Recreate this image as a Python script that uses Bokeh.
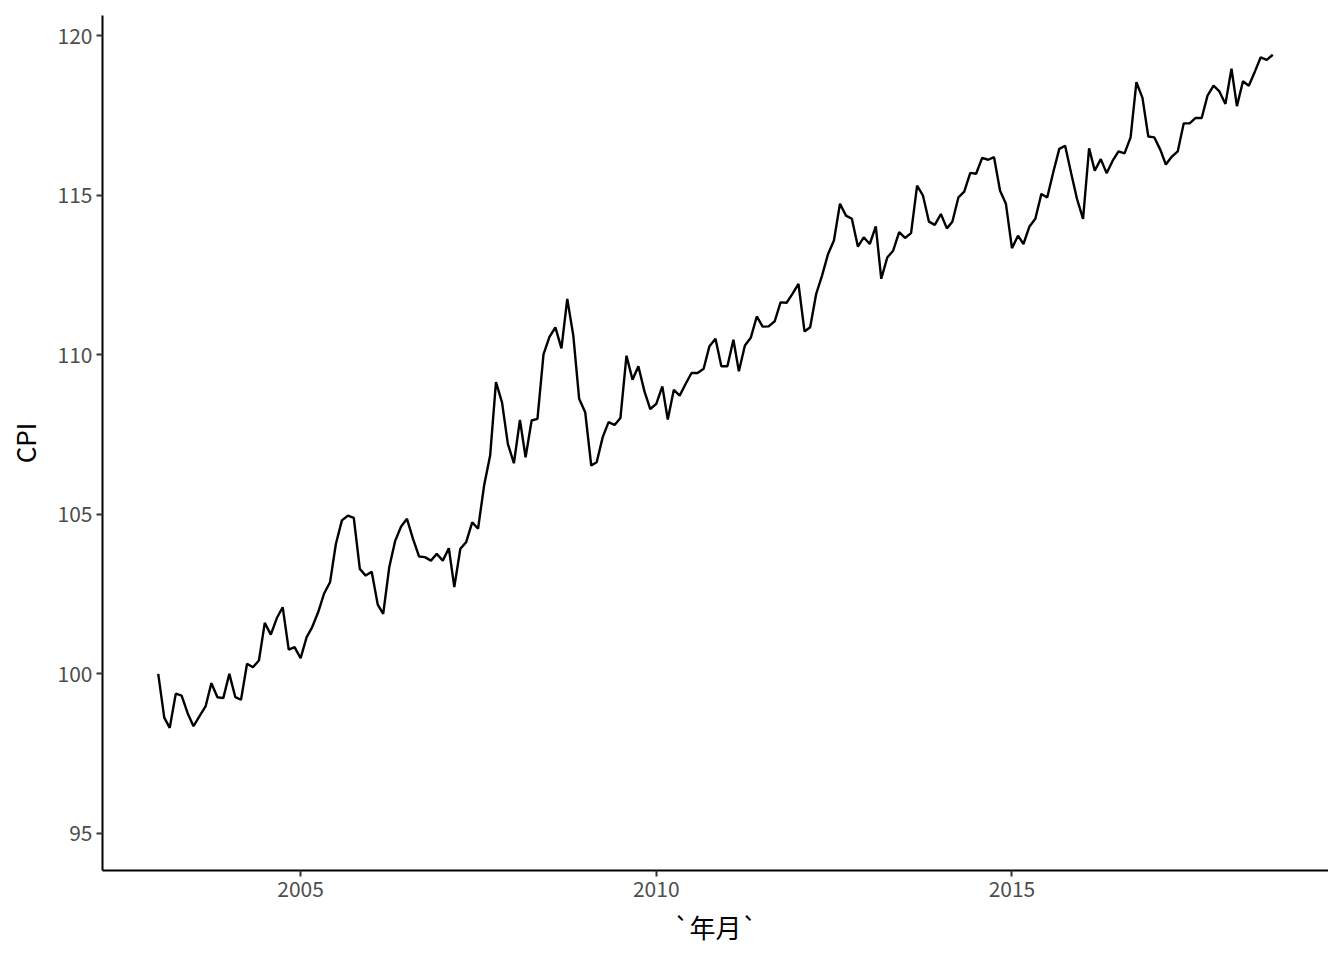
import pandas as pd
from bokeh.plotting import figure
from bokeh.models import ColumnDataSource, Range1d, FixedTicker, DatetimeTickFormatter
from bokeh.embed import file_html
from bokeh.resources import INLINE

cpi_2003 = [100.0, 98.63, 98.31, 99.38, 99.32, 98.77, 98.36, 98.68, 98.98, 99.71, 99.27, 99.24]
cpi_2004 = [100.0, 99.27, 99.19, 100.32, 100.21, 100.42, 101.60, 101.23, 101.75, 102.09, 100.76, 100.84]
cpi_2005 = [100.49, 101.15, 101.46, 101.93, 102.51, 102.87, 104.07, 104.81, 104.96, 104.89, 103.29, 103.08]
cpi_2006 = [103.20, 102.17, 101.88, 103.34, 104.16, 104.62, 104.86, 104.23, 103.68, 103.66, 103.55, 103.76]
cpi_2007 = [103.55, 103.94, 102.72, 103.92, 104.13, 104.75, 104.55, 105.90, 106.84, 109.14, 108.51, 107.21]
cpi_2008 = [106.60, 107.96, 106.79, 107.94, 107.99, 110.01, 110.55, 110.86, 110.20, 111.75, 110.60, 108.62]
cpi_2009 = [108.20, 106.53, 106.63, 107.42, 107.89, 107.80, 108.02, 109.97, 109.22, 109.64, 108.86, 108.30]
cpi_2010 = [108.46, 109.01, 107.97, 108.90, 108.72, 109.09, 109.43, 109.43, 109.56, 110.27, 110.50, 109.64]
cpi_2011 = [109.64, 110.47, 109.48, 110.29, 110.53, 111.20, 110.88, 110.89, 111.05, 111.64, 111.63, 111.91]
cpi_2012 = [112.22, 110.73, 110.86, 111.91, 112.48, 113.16, 113.58, 114.73, 114.36, 114.26, 113.39, 113.68]
cpi_2013 = [113.47, 114.02, 112.38, 113.05, 113.26, 113.84, 113.66, 113.81, 115.30, 114.99, 114.17, 114.07]
cpi_2014 = [114.41, 113.96, 114.17, 114.93, 115.11, 115.70, 115.67, 116.17, 116.11, 116.19, 115.14, 114.73]
cpi_2015 = [113.34, 113.73, 113.47, 114.02, 114.26, 115.04, 114.93, 115.72, 116.45, 116.55, 115.69, 114.88]
cpi_2016 = [114.26, 116.47, 115.77, 116.13, 115.69, 116.08, 116.37, 116.31, 116.81, 118.54, 118.05, 116.84]
cpi_2017 = [116.81, 116.42, 115.96, 116.21, 116.37, 117.25, 117.25, 117.42, 117.42, 118.12, 118.43, 118.25]
cpi_2018 = [117.86, 118.96, 117.79, 118.57, 118.43, 118.87, 119.32, 119.24, 119.40]

cpi = (cpi_2003 + cpi_2004 + cpi_2005 + cpi_2006 + cpi_2007 + cpi_2008 + cpi_2009 + cpi_2010
       + cpi_2011 + cpi_2012 + cpi_2013 + cpi_2014 + cpi_2015 + cpi_2016 + cpi_2017 + cpi_2018)
months = pd.date_range("2003-01-01", periods=len(cpi), freq="MS")

y_ticks = [95, 100, 105, 110, 115, 120]
x_tick_years = ["2005-01-01", "2010-01-01", "2015-01-01"]

FONT = "Noto Sans CJK SC"

src = ColumnDataSource(dict(x=months, y=cpi))

x0 = months[0]
x1 = months[-1]
span = x1 - x0
pad = span * 0.05

p = figure(width=1328, height=947, output_backend="svg", toolbar_location=None,
           x_axis_type="datetime",
           x_range=Range1d(x0 - pad, x1 + pad),
           y_range=Range1d(93.84, 120.63),
           min_border_left=102, min_border_right=0, min_border_top=15, min_border_bottom=77)

p.line("x", "y", source=src, line_color="black", line_width=2.4)

p.grid.visible = False
p.outline_line_color = None
p.background_fill_color = "white"
p.border_fill_color = "white"

tick_ms = [pd.Timestamp(t).value / 1e6 for t in x_tick_years]
p.xaxis.ticker = FixedTicker(ticks=tick_ms)
p.xaxis.formatter = DatetimeTickFormatter(years="%Y", months="%Y", days="%Y")
p.yaxis.ticker = FixedTicker(ticks=y_ticks)

for ax in (p.xaxis[0], p.yaxis[0]):
    ax.axis_line_color = "black"
    ax.axis_line_width = 2
    ax.major_tick_line_color = "#333333"
    ax.major_tick_line_width = 2
    ax.major_tick_in = 0
    ax.major_tick_out = 6
    ax.minor_tick_line_color = None
    ax.major_label_text_font = FONT
    ax.major_label_text_font_size = "21px"
    ax.major_label_text_color = "#4D4D4D"
    ax.axis_label_text_font = FONT
    ax.axis_label_text_font_size = "26px"
    ax.axis_label_text_color = "black"
    ax.axis_label_text_font_style = "normal"

p.xaxis.axis_label = "`年月`"
p.yaxis.axis_label = "CPI"
p.xaxis.major_label_standoff = 4
p.yaxis.major_label_standoff = 4
p.xaxis.axis_label_standoff = 8
p.yaxis.axis_label_standoff = 12

open("out.html", "w").write(file_html(p, INLINE))
